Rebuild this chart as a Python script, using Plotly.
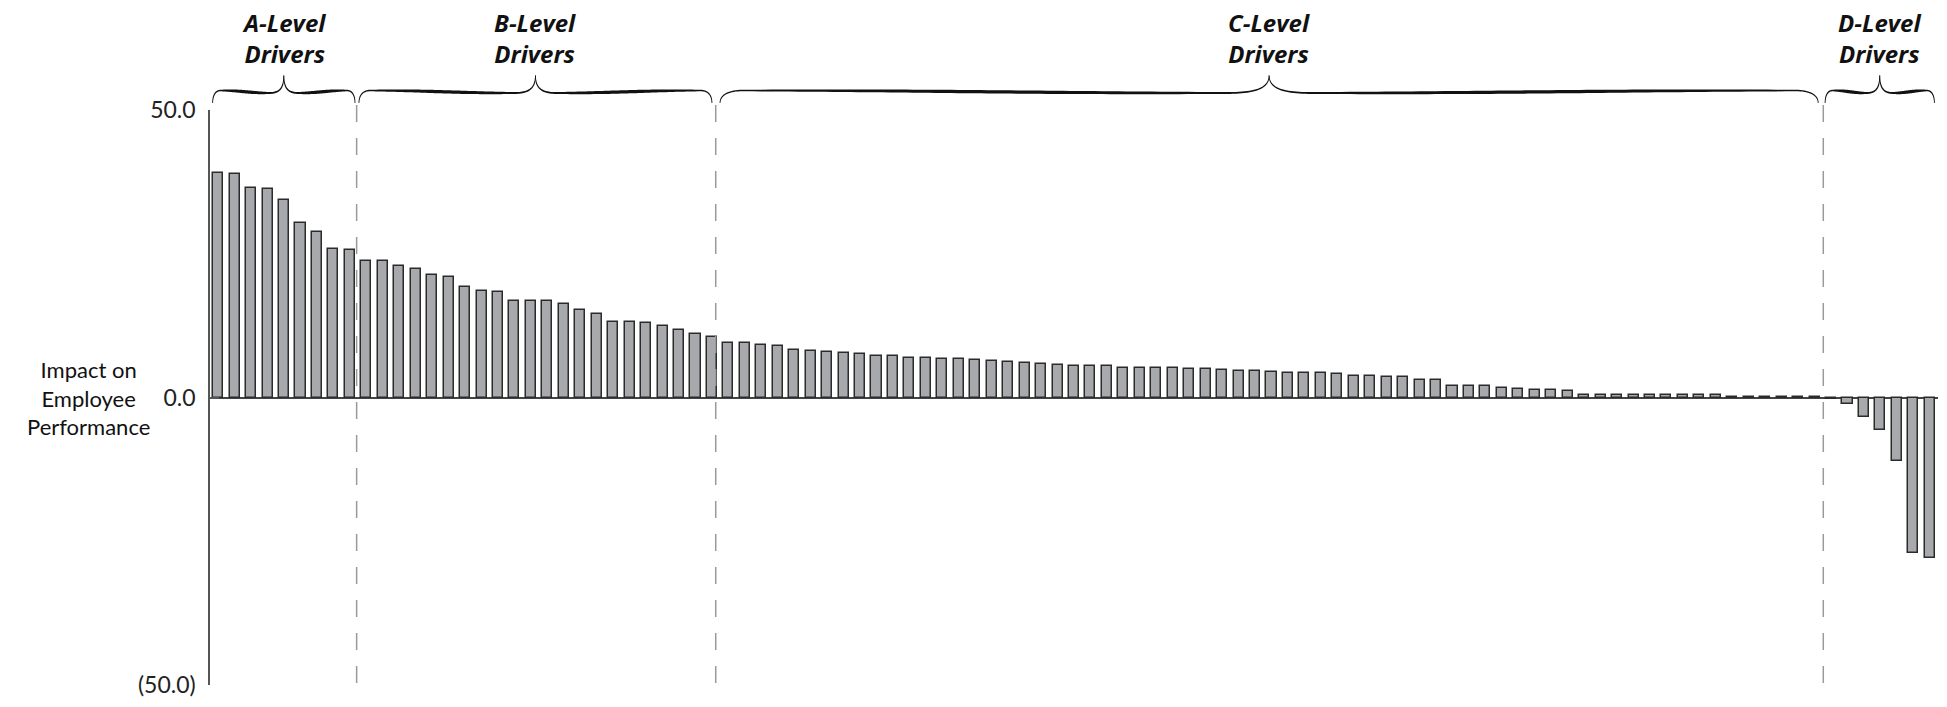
import numpy as np
import plotly.graph_objects as go

# ---------------- data ----------------
a_values = [39.1, 38.9, 36.4, 36.2, 34.4, 30.3, 28.8, 25.8, 25.7]
b_values = [23.8, 23.7, 22.9, 22.3, 21.3, 20.9, 19.3, 18.5, 18.4, 16.7, 16.7,
            16.7, 16.2, 15.3, 14.6, 13.2, 13.2, 13.0, 12.4, 11.8, 11.1, 10.5]
c_values = [9.5, 9.5, 9.1, 9.0, 8.2, 8.1, 8.0, 7.7, 7.5, 7.3, 7.2, 6.8, 6.8, 6.7,
            6.7, 6.6, 6.3, 6.2, 6.0, 5.8, 5.7, 5.5, 5.5, 5.5, 5.2, 5.2, 5.2, 5.2,
            5.0, 4.9, 4.7, 4.6, 4.6, 4.4, 4.2, 4.2, 4.2, 4.1, 3.8, 3.7, 3.5, 3.5,
            3.1, 3.0, 2.0, 2.0, 2.0, 1.7, 1.5, 1.3, 1.3, 1.1, 0.4, 0.4, 0.4, 0.4,
            0.4, 0.4, 0.4, 0.4, 0.4, 0.15, 0.15, 0.05, 0.05, 0.05, 0.05]
d_values = [-0.2, -1.2, -3.4, -5.7, -11.1, -27.0, -27.9]

group_labels = ["A-Level<br>Drivers", "B-Level<br>Drivers",
                "C-Level<br>Drivers", "D-Level<br>Drivers"]
group_breaks = [8.41, 30.23, 97.53]          # dashed separators (bar-index units)
brace_spans = [(-0.34, 8.31), (8.55, 30.0), (30.49, 97.22), (97.64, 104.28)]

ytick_vals = [-50, 0, 50]
ytick_text = ["(50.0)", "0.0", "50.0"]
y_title = "Impact on<br>Employee<br>Performance"

values = a_values + b_values + c_values + d_values
x_idx = list(range(len(values)))

# ---------------- layout geometry ----------------
W, H = 1947, 707
ML, MR, MT, MB = 210, 9, 110, 22
PW, PH = W - ML - MR, H - MT - MB
X_LO, X_HI = -0.5, len(values) - 0.5

def d2px(d):
    return ML + (d - X_LO) / (X_HI - X_LO) * PW

def pxx(px):
    return (px - ML) / PW

def pxy(py):
    return (H - MB - py) / PH

FONT = "Lato, 'Open Sans', sans-serif"
TITLE_FONT = "'Open Sans', Lato, sans-serif"

fig = go.Figure()
fig.add_trace(go.Bar(
    x=x_idx, y=values, width=0.61,
    marker=dict(color="#a7a9ac", line=dict(color="#2b2b2b", width=1.5)),
    hoverinfo="skip", showlegend=False,
))

shapes = []
# dashed separators
for b in group_breaks:
    xp = pxx(d2px(b))
    shapes.append(dict(type="line", xref="paper", yref="paper",
                       x0=xp, x1=xp, y0=pxy(105), y1=pxy(687),
                       line=dict(color="#9a9a9a", width=1.5, dash="17px,16px")))

# curly braces
def cubic(p0, p1, p2, p3, n):
    t = np.linspace(0, 1, n)[:, None]
    return ((1 - t) ** 3) * p0 + 3 * ((1 - t) ** 2) * t * p1 + 3 * (1 - t) * t ** 2 * p2 + t ** 3 * p3

def half_brace(xe, xc):
    s = 1 if xc > xe else -1
    L = abs(xc - xe)
    h = 6 + 0.03 * L
    tw = 10 + 0.06 * L
    yE, yL, yD, yT = 103.0, 90.5, 93.0, 75.5
    P = np.array
    n1, n2, n3 = 20, 60, 25
    seg1 = cubic(P([xe, yE]), P([xe, yE - 7]), P([xe + s * h * 0.3, yL]), P([xe + s * h, yL]), n1)
    x1 = xe + s * h
    x2 = xc - s * tw
    span = abs(x2 - x1)
    seg2 = cubic(P([x1, yL]), P([x1 + s * 0.4 * span, yL]), P([x2 - s * 0.4 * span, yD]), P([x2, yD]), n2)
    seg3 = cubic(P([x2, yD]), P([xc - s * tw * 0.35, yD]), P([xc, yD - 4]), P([xc, yT]), n3)
    pts = np.vstack([seg1, seg2[1:], seg3[1:]])
    u = np.concatenate([np.linspace(0, 0.1, n1), np.linspace(0.1, 0.85, n2)[1:],
                        np.linspace(0.85, 1, n3)[1:]])
    w = 0.8 + 2.5 * np.sin(np.pi * u)
    d = np.gradient(pts, axis=0)
    d /= np.linalg.norm(d, axis=1)[:, None]
    nrm = np.stack([-d[:, 1], d[:, 0]], axis=1)
    up = pts + nrm * w[:, None] / 2
    lo = pts - nrm * w[:, None] / 2
    return np.vstack([up, lo[::-1]])

def poly_path(poly):
    parts = [f"{pxx(px):.6f},{pxy(py):.6f}" for px, py in poly]
    return "M " + " L ".join(parts) + " Z"

annotations = []
for (a, b), label in zip(brace_spans, group_labels):
    xa, xb = d2px(a), d2px(b)
    xc = (xa + xb) / 2
    for xe in (xa, xb):
        shapes.append(dict(type="path", xref="paper", yref="paper",
                           path=poly_path(half_brace(xe, xc)),
                           fillcolor="#111111", line=dict(width=0)))
    annotations.append(dict(
        text=label, xref="paper", yref="paper", x=pxx(xc), y=pxy(37.5),
        xanchor="center", yanchor="middle", showarrow=False, align="center",
        font=dict(family=TITLE_FONT, size=24, color="#111111", weight="bold", style="italic")))

annotations.append(dict(
    text=y_title, xref="paper", yref="y", x=pxx(88), y=0,
    xanchor="center", yanchor="middle", showarrow=False, align="center",
    font=dict(family=FONT, size=22, color="#111111")))

fig.update_layout(
    width=W, height=H,
    margin=dict(l=ML, r=MR, t=MT, b=MB, pad=0),
    paper_bgcolor="white", plot_bgcolor="white",
    shapes=shapes, annotations=annotations,
    bargap=0,
    xaxis=dict(visible=False, range=[X_LO, X_HI], fixedrange=True),
    yaxis=dict(range=[-50, 50], tickvals=ytick_vals, ticktext=ytick_text,
               showline=True, linecolor="#555555", linewidth=1.5,
               ticks="inside", ticklen=9, tickwidth=1.5, tickcolor="#555555",
               ticklabelstandoff=8,
               showgrid=False, zeroline=True, zerolinecolor="#444444", zerolinewidth=1.5,
               tickfont=dict(family=FONT, size=23, color="#222222")),
    font=dict(family=FONT),
)

fig.write_html("out.html",
               config={"displayModeBar": False},
               post_script="document.body.style.margin='0';document.body.style.overflow='hidden';")
